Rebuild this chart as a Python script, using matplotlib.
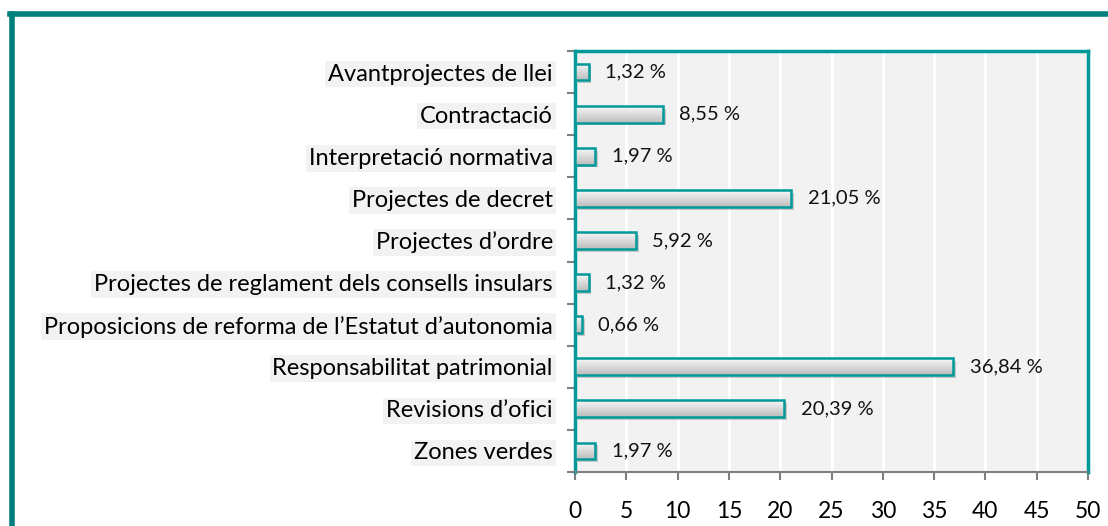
import numpy as np
import matplotlib.pyplot as plt
from matplotlib.lines import Line2D
from matplotlib import patheffects as pe

plt.rcParams['font.family'] = ['Lato', 'DejaVu Sans']

categories = [
    "Avantprojectes de llei",
    "Contractació",
    "Interpretació normativa",
    "Projectes de decret",
    "Projectes d\u2019ordre",
    "Projectes de reglament dels consells insulars",
    "Proposicions de reforma de l\u2019Estatut d\u2019autonomia",
    "Responsabilitat patrimonial",
    "Revisions d\u2019ofici",
    "Zones verdes",
]
values = [1.32, 8.55, 1.97, 21.05, 5.92, 1.32, 0.66, 36.84, 20.39, 1.97]
xticks = [0, 5, 10, 15, 20, 25, 30, 35, 40, 45, 50]

TEAL = "#009999"
FRAME = "#00807c"
GRAY = "#808080"

fig = plt.figure(figsize=(11.08, 5.26), dpi=100)
ax = fig.add_axes([575 / 1108, 1 - 472 / 526, 513 / 1108, 421 / 526])
ax.set_facecolor("#f2f2f2")

n = len(categories)
y = np.arange(n)

# gradient for bars: light at top, darker grey at bottom
grad = np.linspace(0.97, 0.74, 64).reshape(-1, 1)

bars = ax.barh(y, values, height=0.4, color="white", edgecolor="none", zorder=3)
for b in bars:
    b.set_path_effects([pe.SimplePatchShadow(offset=(2, -2), alpha=0.35, shadow_rgbFace="#777777"), pe.Normal()])
    x0, y0, w, h = b.get_x(), b.get_y(), b.get_width(), b.get_height()
    im = ax.imshow(grad, cmap="gray", vmin=0, vmax=1, aspect="auto",
                   extent=(x0, x0 + w, y0 + h, y0), zorder=4, interpolation="bicubic")
    im.set_clip_path(b)
ax.barh(y, values, height=0.4, color="none", edgecolor=TEAL, linewidth=1.8, zorder=5)

for yi, v in zip(y, values):
    ax.annotate(f"{v:.2f}".replace(".", ",") + " %", (v, yi), xytext=(12, 0),
                textcoords="offset points", va="center", ha="left", fontsize=14.5, color="#111111")

ax.set_xlim(0, 50)
ax.set_ylim(n - 0.5, -0.5)
ax.set_xticks(xticks)
ax.set_xticklabels([str(t) for t in xticks], fontsize=16.5)
ax.set_yticks(y)
ax.set_yticklabels(categories, fontsize=17)
ax.set_yticks(np.arange(-0.5, n, 1), minor=True)
ax.tick_params(axis="y", which="major", length=0, pad=16)
ax.tick_params(axis="y", which="minor", length=6, width=1.5, color=GRAY)
ax.tick_params(axis="x", which="major", length=6, width=1.5, color=GRAY, pad=15)
for lab in ax.get_yticklabels():
    lab.set_bbox(dict(facecolor="#f2f2f2", edgecolor="none", pad=2))

ax.grid(axis="x", color="white", linewidth=2.2, zorder=1)
ax.set_axisbelow(True)

for s in ["top", "right", "left"]:
    ax.spines[s].set_color(TEAL)
    ax.spines[s].set_linewidth(2.5)
ax.spines["bottom"].set_color(GRAY)
ax.spines["bottom"].set_linewidth(1.5)

# outer frame (top and left edges visible)
fig.add_artist(Line2D([12 / 1108, 12 / 1108], [0, 1 - 14 / 526], color=FRAME, linewidth=4, transform=fig.transFigure))
fig.add_artist(Line2D([10 / 1108, 1], [1 - 14 / 526, 1 - 14 / 526], color=FRAME, linewidth=4, transform=fig.transFigure))

fig.savefig("out.png", dpi=100)
